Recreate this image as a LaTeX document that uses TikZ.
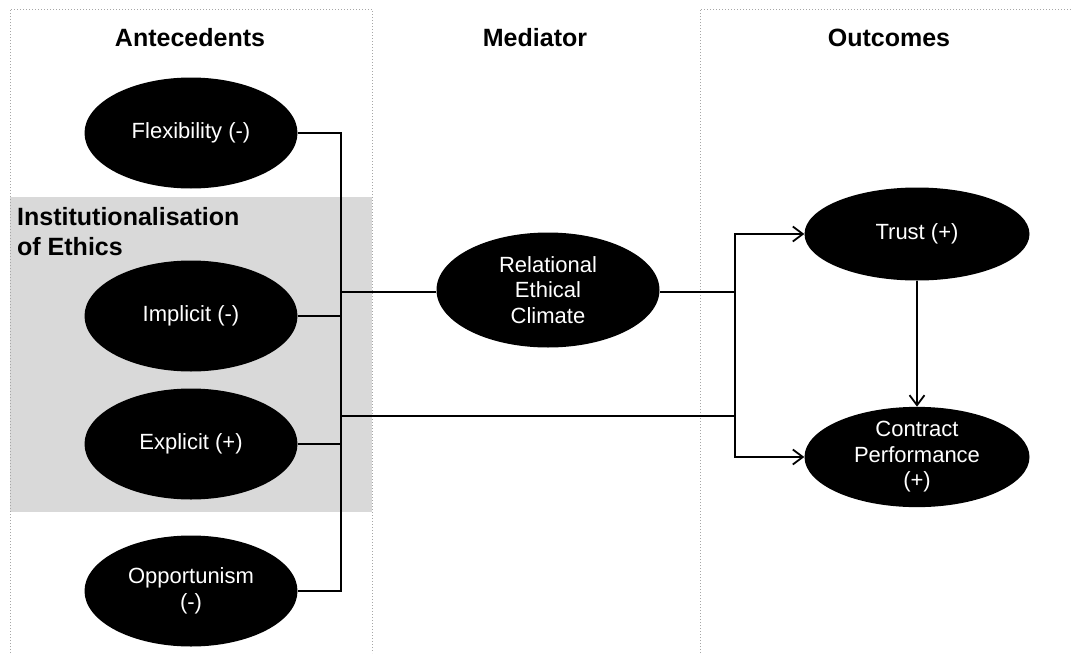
\documentclass[tikz,border=0pt]{standalone}
\usepackage{fontspec}
\setmainfont{Liberation Sans}
\usepackage{tikz}
\usepackage{xcolor}
\usetikzlibrary{shapes.geometric,arrows.meta}
\definecolor{panelgray}{HTML}{D9D9D9}
\definecolor{framegray}{HTML}{A6A6A6}
\tikzset{
    construct-oval/.style = {ellipse, fill=black, text=white, inner sep=0pt, align=center,
        minimum width=213pt, minimum height=111pt, font=\fontsize{22}{25.5}\selectfont},
    column-title/.style = {font=\fontsize{25}{30}\selectfont\bfseries},
    column-frame/.style = {draw=framegray, dotted, line width=1pt},
    link/.style = {draw=black, line width=1.8pt},
    link-arrow/.style = {link, -{Straight Barb[length=10pt,width=15pt,line width=1.8pt]}},
}

\begin{document}
\begin{tikzpicture}[x=1pt,y=-1pt]
\useasboundingbox (0,0) rectangle (1073,653);
% grouping panels
\fill[panelgray] (10,197) rectangle (372,512);
\draw[column-frame] (10,653) -- (10,9) -- (372,9) -- (372,653);
\draw[column-frame] (700,653) -- (700,9) -- (1073,9);
\node[column-title] (ante-title) at (190,38) {Antecedents};
\node[column-title] (medi-title) at (535,38) {Mediator};
\node[column-title] (outc-title) at (889,38) {Outcomes};
\node[font=\fontsize{25}{30}\selectfont\bfseries, align=left, anchor=north west, inner sep=0pt]
    (inst-title) at (17,207) {Institutionalisation\\of Ethics};
% constructs
\node[construct-oval] (flex) at (191,133) {Flexibility (-)};
\node[construct-oval] (impl) at (191,316) {Implicit (-)};
\node[construct-oval] (expl) at (191,444) {Explicit (+)};
\node[construct-oval] (opp) at (191,591) {Opportunism\\(-)};
\node[construct-oval, minimum width=223pt, minimum height=115pt] (rec) at (548,290) {Relational\\Ethical\\Climate};
\node[construct-oval, minimum width=225pt, minimum height=93pt] (trust) at (917,234) {Trust (+)};
\node[construct-oval, minimum width=225pt, minimum height=95pt] (perf) at (917,457) {Contract\\Performance\\(+)};
% connectors
\coordinate (lbus) at (341,292);
\coordinate (lbus-low) at (341,416);
\coordinate (rbus) at (735,292);
\draw[link] (flex.east) -| (lbus) |- (opp.east);
\draw[link] (impl.east) -- (impl.east -| lbus);
\draw[link] (expl.east) -- (expl.east -| lbus);
\draw[link] (lbus) -- (rec.west |- lbus);
\draw[link] (rec.east |- rbus) -- (rbus);
\draw[link] (lbus-low) -- (lbus-low -| rbus);
\draw[link-arrow] (rbus) |- (trust.west);
\draw[link-arrow] (rbus) |- (perf.west);
\draw[link-arrow] (trust) -- (perf);
\end{tikzpicture}
\end{document}
